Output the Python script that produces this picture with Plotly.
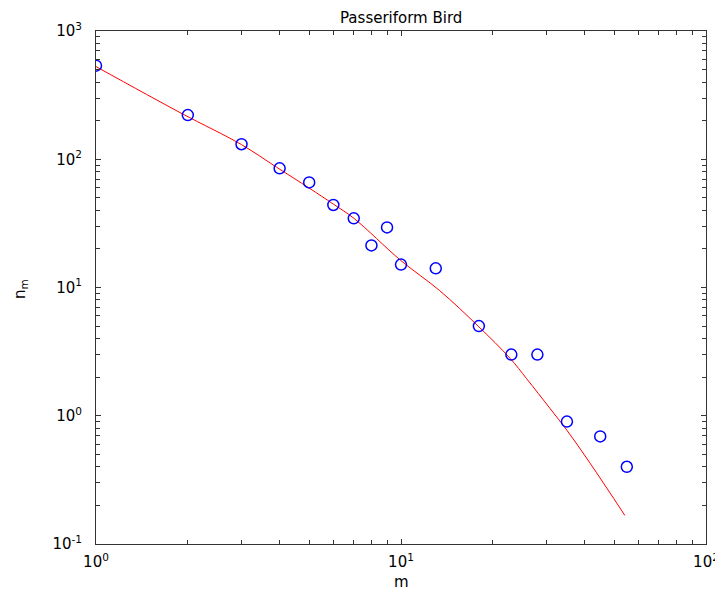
import plotly.graph_objects as go

# observed data (circles)
m_obs = [1, 2, 3, 4, 5, 6, 7, 8, 9, 10, 13, 18, 23, 28, 35, 45, 55]
n_obs = [537, 221, 131, 85, 66, 44, 34.6, 21.3, 29.4, 15.1, 14.1, 5.0, 3.0, 3.0, 0.9, 0.69, 0.40]

# fitted curve (red line)
m_fit = [1, 1.9, 3, 3.9, 5, 6, 7, 10, 13.4, 17.9, 22.8, 25.8, 30.8, 35, 41.7, 54.2]
n_fit = [528, 229, 130, 87, 59.6, 44.7, 34.7, 16.2, 9.44, 5.0, 2.80, 1.95, 1.14, 0.77, 0.426, 0.167]

# tick layout
x_decades = [0, 1, 2]
y_decades = [-1, 0, 1, 2, 3]


def major_ticks(decades):
    return [10 ** d for d in decades], [f"10<sup>{d}</sup>" for d in decades]


def minor_ticks(decades):
    return [k * 10 ** d for d in decades[:-1] for k in range(2, 10)]


xt_vals, xt_text = major_ticks(x_decades)
yt_vals, yt_text = major_ticks(y_decades)

FONT = "DejaVu Sans"
TXT = dict(family=FONT, size=15, color="#000000")

# the page body has an 8px margin, so the figure is drawn 8px in from the window edge
OFF = 8
W, H = 723 - OFF, 594 - OFF
L, R, T, B = 96 - OFF, 17, 31 - OFF, 50
pw, ph = W - L - R, H - T - B


def px_to_paper(px, py):
    # px, py are window pixel coordinates
    return (px - OFF - L) / pw, (H - B - (py - OFF)) / ph


fig = go.Figure()
fig.add_trace(go.Scatter(
    x=m_fit, y=n_fit, mode="lines",
    line=dict(color="#ff0000", width=1, shape="spline", smoothing=1.0),
    showlegend=False,
))
fig.add_trace(go.Scatter(
    x=m_obs, y=n_obs, mode="markers",
    marker=dict(symbol="circle-open", color="#0000ff", size=11, line=dict(width=1.5, color="#0000ff")),
    showlegend=False,
))

axis_common = dict(
    type="log", automargin=False,
    showline=True, linecolor="#333333", linewidth=1, mirror="ticks",
    ticks="inside", ticklen=5, tickcolor="#333333", tickwidth=1,
    showgrid=False, zeroline=False,
    tickfont=TXT,
)

fig.update_layout(
    width=W, height=H,
    margin=dict(l=L, r=R, t=T, b=B, autoexpand=False),
    paper_bgcolor="white", plot_bgcolor="white",
    xaxis=dict(axis_common, range=[0, 2], tickmode="array", tickvals=xt_vals, ticktext=xt_text,
               ticklabelstandoff=4,
               minor=dict(tickmode="array", tickvals=minor_ticks(x_decades), ticks="inside",
                          ticklen=4, tickcolor="#333333", tickwidth=1)),
    yaxis=dict(axis_common, range=[-1, 3], tickmode="array", tickvals=yt_vals, ticktext=yt_text,
               ticklabelstandoff=10,
               minor=dict(tickmode="array", tickvals=minor_ticks(y_decades), ticks="inside",
                          ticklen=4, tickcolor="#333333", tickwidth=1)),
)

# title: anchored at the top edge of the figure so it is not clipped
tx, ty = px_to_paper(401, OFF)
fig.add_annotation(text="Passeriform Bird", x=tx, y=ty, xref="paper", yref="paper", showarrow=False,
                   font=TXT, xanchor="center", yanchor="top", borderpad=0)
mx, my = px_to_paper(401, 582)
fig.add_annotation(text="m", x=mx, y=my, xref="paper", yref="paper", showarrow=False,
                   font=TXT, xanchor="center", yanchor="middle")
nx, ny = px_to_paper(20, 289)
fig.add_annotation(text="n<sub>m</sub>", x=nx, y=ny, xref="paper", yref="paper", showarrow=False,
                   font=TXT, xanchor="center", yanchor="middle", textangle=-90)

fig.write_html("out.html")
